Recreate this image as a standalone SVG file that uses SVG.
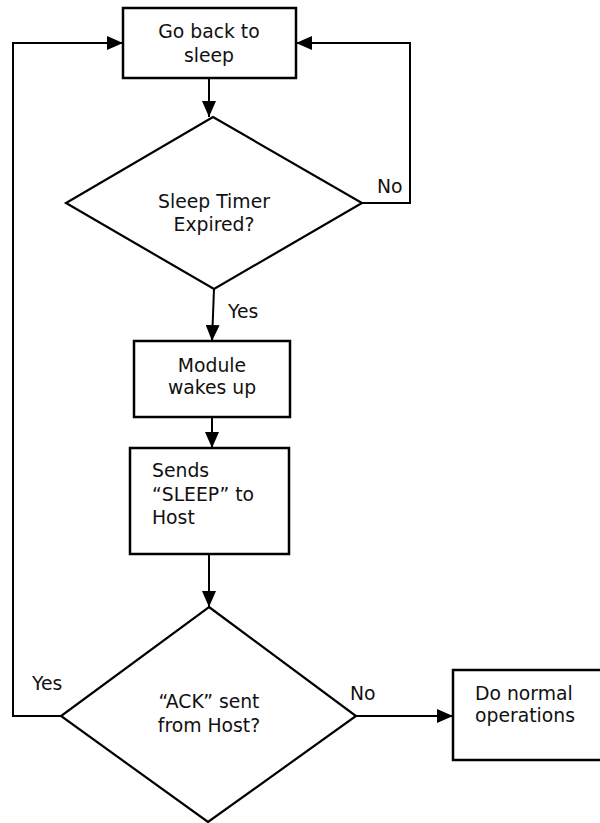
<svg xmlns="http://www.w3.org/2000/svg" width="600" height="823" viewBox="0 0 600 823">
<style>
.box{fill:#fff;stroke:#000;stroke-width:2.5}
.dia{fill:#fff;stroke:#000;stroke-width:2.2}
.ln{fill:none;stroke:#000;stroke-width:2}
text{font-family:"DejaVu Sans",Verdana,sans-serif;font-size:18.8px;fill:#111}
.c{text-anchor:middle}
</style>
<defs>
<marker id="ah" markerUnits="userSpaceOnUse" markerWidth="16" markerHeight="14" refX="16" refY="7" orient="auto">
<path d="M0,0 L16,7 L0,14 Z" fill="#000"/>
</marker>
</defs>
<rect width="600" height="823" fill="#fff"/>
<g id="connectors">
<path class="ln" d="M209,78 L209,117" marker-end="url(#ah)"/>
<path class="ln" d="M362,203 L410,203 L410,43 L296,43" marker-end="url(#ah)"/>
<path class="ln" d="M214,289 L212,341" marker-end="url(#ah)"/>
<path class="ln" d="M212,417 L212,448" marker-end="url(#ah)"/>
<path class="ln" d="M209,554 L209,607" marker-end="url(#ah)"/>
<path class="ln" d="M61,716 L13,716 L13,43 L123,43" marker-end="url(#ah)"/>
<path class="ln" d="M356,716 L453,716" marker-end="url(#ah)"/>
</g>
<g id="labels">
<text x="377" y="193">No</text>
<text x="228" y="318">Yes</text>
<text x="32" y="690">Yes</text>
<text x="350" y="700">No</text>
</g>
<g id="sleep">
<rect class="box" x="123" y="8" width="173" height="70"/>
<text class="c" x="209" y="38">Go back to</text>
<text class="c" x="209" y="62">sleep</text>
</g>
<g id="timer">
<polygon class="dia" points="213,117 362,203 214,289 66,203"/>
<text class="c" x="214" y="208">Sleep Timer</text>
<text class="c" x="214" y="231">Expired?</text>
</g>
<g id="wake">
<rect class="box" x="134" y="341" width="156" height="76"/>
<text class="c" x="212" y="372">Module</text>
<text class="c" x="212" y="394">wakes up</text>
</g>
<g id="sends">
<rect class="box" x="130" y="448" width="159" height="106"/>
<text x="152" y="477">Sends</text>
<text x="152" y="501">“SLEEP” to</text>
<text x="152" y="524">Host</text>
</g>
<g id="ack">
<polygon class="dia" points="209,607 356,716 208,822 61,716"/>
<text class="c" x="209" y="708">“ACK” sent</text>
<text class="c" x="209" y="732">from Host?</text>
</g>
<g id="normal">
<rect class="box" x="453" y="670" width="150" height="90"/>
<text x="475" y="700">Do normal</text>
<text x="475" y="722">operations</text>
</g>
</svg>
